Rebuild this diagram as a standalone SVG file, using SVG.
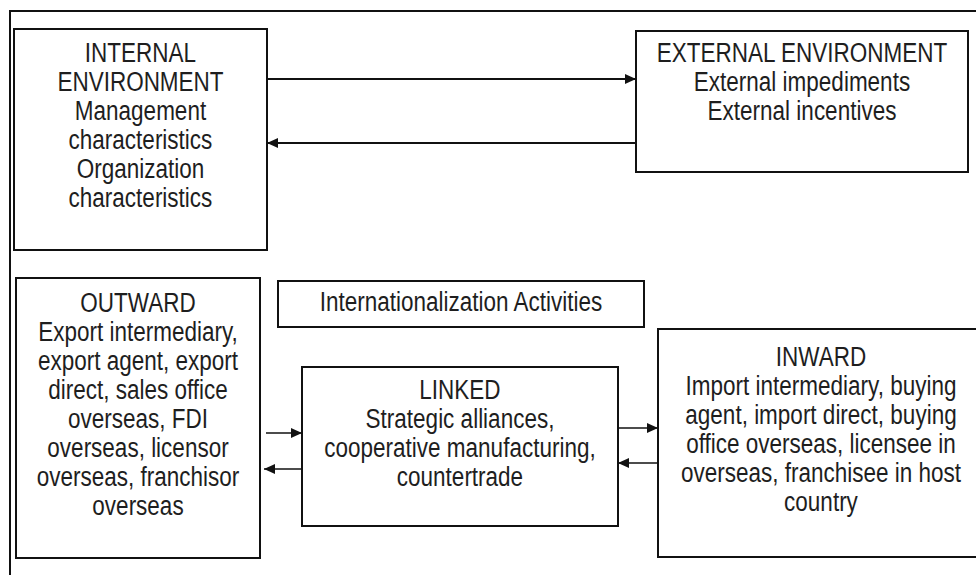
<svg xmlns="http://www.w3.org/2000/svg" width="976" height="575" viewBox="0 0 976 575">
<style>
.box{fill:#fff;stroke:#111;stroke-width:2}
.t{font-family:"Liberation Sans",Arial,sans-serif;font-size:22.5px;fill:#1e1e1e;text-anchor:middle}
.c{stroke:#111;stroke-width:2;fill:none}
.c2{stroke:#111;stroke-width:1.6;fill:none}
</style>
<defs>
<marker id="ah" markerUnits="userSpaceOnUse" markerWidth="12" markerHeight="10" refX="11" refY="5" orient="auto">
<path d="M0,0 L11,5 L0,10 Z" fill="#111"/>
</marker>
</defs>
<rect width="976" height="575" fill="#fff"/>
<g id="frame">
<path d="M10,575 L10,11 L976,11" fill="none" stroke="#111" stroke-width="2"/>
</g>
<g id="internal">
<rect class="box" x="14" y="29" width="253" height="221"/>
<g transform="translate(0,62) scale(1,1.2)">
<text class="t" x="140.5" y="0">INTERNAL</text>
<text class="t" x="140.5" y="24.17">ENVIRONMENT</text>
<text class="t" x="140.5" y="48.33">Management</text>
<text class="t" x="140.5" y="72.5">characteristics</text>
<text class="t" x="140.5" y="96.67">Organization</text>
<text class="t" x="140.5" y="120.83">characteristics</text>
</g>
</g>
<g id="external">
<rect class="box" x="636" y="31" width="332" height="141"/>
<g transform="translate(0,62) scale(1,1.2)">
<text class="t" x="802" y="0">EXTERNAL ENVIRONMENT</text>
<text class="t" x="802" y="24.17">External impediments</text>
<text class="t" x="802" y="48.33">External incentives</text>
</g>
</g>
<g id="outward">
<rect class="box" x="16" y="278" width="244" height="280"/>
<g transform="translate(0,312) scale(1,1.2)">
<text class="t" x="138" y="0">OUTWARD</text>
<text class="t" x="138" y="24.17">Export intermediary,</text>
<text class="t" x="138" y="48.33">export agent, export</text>
<text class="t" x="138" y="72.5">direct, sales office</text>
<text class="t" x="138" y="96.67">overseas, FDI</text>
<text class="t" x="138" y="120.83">overseas, licensor</text>
<text class="t" x="138" y="145">overseas, franchisor</text>
<text class="t" x="138" y="169.17">overseas</text>
</g>
</g>
<g id="activities">
<rect class="box" x="278" y="281" width="366" height="46"/>
<g transform="translate(0,311) scale(1,1.2)">
<text class="t" x="461" y="0">Internationalization Activities</text>
</g>
</g>
<g id="linked">
<rect class="box" x="302" y="367" width="316" height="159"/>
<g transform="translate(0,399) scale(1,1.2)">
<text class="t" x="460" y="0">LINKED</text>
<text class="t" x="460" y="24.17">Strategic alliances,</text>
<text class="t" x="460" y="48.33">cooperative manufacturing,</text>
<text class="t" x="460" y="72.5">countertrade</text>
</g>
</g>
<g id="inward">
<rect class="box" x="658" y="329" width="340" height="228"/>
<g transform="translate(0,366) scale(1,1.2)">
<text class="t" x="821" y="0">INWARD</text>
<text class="t" x="821" y="24.17">Import intermediary, buying</text>
<text class="t" x="821" y="48.33">agent, import direct, buying</text>
<text class="t" x="821" y="72.5">office overseas, licensee in</text>
<text class="t" x="821" y="96.67">overseas, franchisee in host</text>
<text class="t" x="821" y="120.83">country</text>
</g>
</g>
<g id="connectors">
<line class="c" x1="267" y1="79" x2="636" y2="79" marker-end="url(#ah)"/>
<line class="c" x1="636" y1="143" x2="267" y2="143" marker-end="url(#ah)"/>
<line class="c2" x1="266" y1="433" x2="302" y2="433" marker-end="url(#ah)"/>
<line class="c2" x1="302" y1="469" x2="264" y2="469" marker-end="url(#ah)"/>
<line class="c2" x1="618" y1="428" x2="658" y2="428" marker-end="url(#ah)"/>
<line class="c2" x1="658" y1="463" x2="618" y2="463" marker-end="url(#ah)"/>
</g>
</svg>
